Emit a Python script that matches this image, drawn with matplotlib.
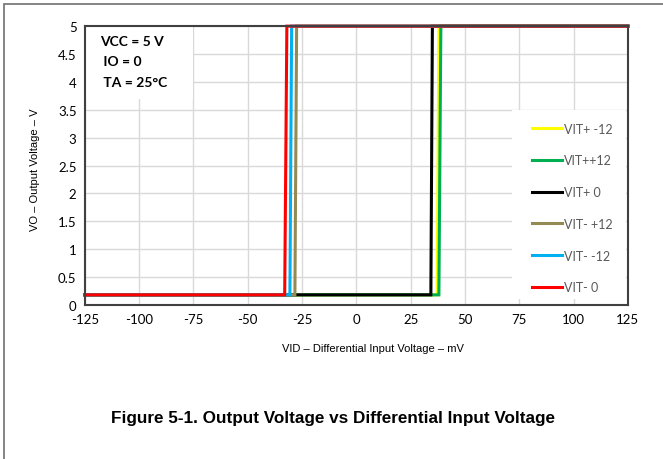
import matplotlib
matplotlib.use("Agg")
import matplotlib.pyplot as plt
from matplotlib.patches import Rectangle

plt.rcParams['axes.unicode_minus'] = False

# low / high output levels (V)
v_low = 0.18
v_high = 5.0
x_min, x_max = -125, 125

# series: name, color, transition start (low side), transition end (high side) in mV
names = ["VIT+ -12", "VIT++12", "VIT+ 0", "VIT- +12", "VIT- -12", "VIT- 0"]
colors = ["#FFFF00", "#00B050", "#000000", "#948A54", "#00B0F0", "#FF0000"]
t_low = [37.2, 38.0, 34.3, -28.3, -30.6, -33.0]
t_high = [38.0, 38.9, 35.0, -27.5, -29.8, -32.0]

x_ticks = [-125, -100, -75, -50, -25, 0, 25, 50, 75, 100, 125]
y_ticks = [0, 0.5, 1, 1.5, 2, 2.5, 3, 3.5, 4, 4.5, 5]
y_labels = ["0", "0.5", "1", "1.5", "2", "2.5", "3", "3.5", "4", "4.5", "5"]

fig = plt.figure(figsize=(6.63, 4.60), dpi=100)
ax = fig.add_axes([0.128, 0.335, 0.819, 0.606])

for n, c, a, b in zip(names, colors, t_low, t_high):
    ax.plot([x_min, a, b, x_max], [v_low, v_low, v_high, v_high],
            color=c, lw=2.2, label=n, clip_on=False, solid_joinstyle="miter")

ax.set_xlim(x_min, x_max)
ax.set_ylim(0, 5)
ax.set_xticks(x_ticks)
ax.set_yticks(y_ticks)
ax.set_yticklabels(y_labels)
ax.tick_params(length=0, labelsize=9.5, pad=6)
for lab in ax.get_xticklabels() + ax.get_yticklabels():
    lab.set_family("Lato")
ax.grid(True, color="#D9D9D9", lw=1)
ax.set_axisbelow(True)
for s in ax.spines.values():
    s.set_color("#404040")
    s.set_linewidth(1.5)

ax.set_xlabel("VID – Differential Input Voltage – mV", family="Liberation Sans",
              fontsize=8)
ax.xaxis.set_label_coords(0.53, -0.135)
ax.set_ylabel("VO – Output Voltage – V", family="Liberation Sans", fontsize=8)
ax.yaxis.set_label_coords(-0.083, 0.487)

# condition box
ax.add_patch(Rectangle((0.0, 0.738), 0.199, 0.262, transform=ax.transAxes,
                       facecolor="white", edgecolor="none", zorder=1.5))
ax.text(0.028, 0.97, "VCC = 5 V\n IO = 0\n TA = 25°C", transform=ax.transAxes,
        va="top", ha="left", family="Lato", fontweight="bold", fontsize=10,
        linespacing=1.85, zorder=5)

# white area behind legend
ax.add_patch(Rectangle((0.786, 0.02), 0.21, 0.68, transform=ax.transAxes,
                       facecolor="white", edgecolor="none", zorder=1.5))
leg = ax.legend(loc="upper left", bbox_to_anchor=(0.815, 0.672), frameon=False,
                prop={"family": "Lato", "size": 9}, labelspacing=1.58,
                handlelength=2.4, handletextpad=0.15, borderaxespad=0)
for t in leg.get_texts():
    t.set_color("#595959")

fig.text(0.503, 0.09, "Figure 5-1. Output Voltage vs Differential Input Voltage",
         ha="center", va="center", family="Liberation Sans", fontweight="bold",
         fontsize=12.3)

# outer frame
fig.patches.append(Rectangle((4 / 663, -0.05), 1.1, 1 - 5 / 460 + 0.05,
                             transform=fig.transFigure, fill=False,
                             edgecolor="#707070", lw=1.2))

fig.savefig("out.png", dpi=100)
